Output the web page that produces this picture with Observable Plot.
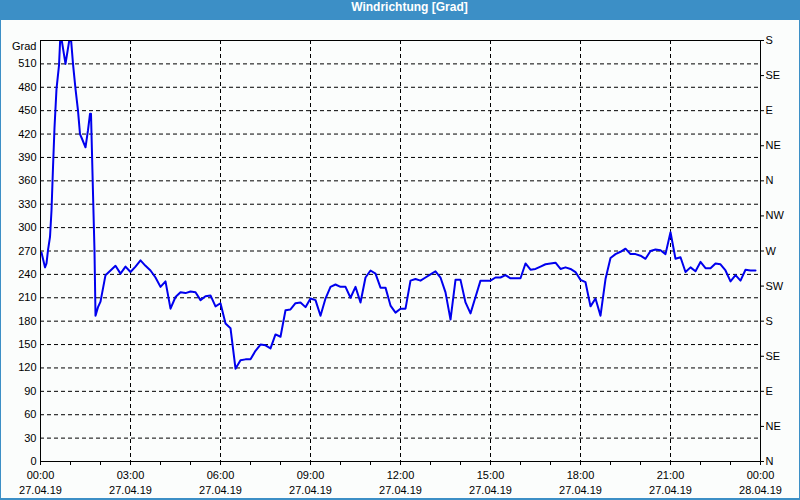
<!DOCTYPE html>
<html>
<head>
<meta charset="utf-8">
<script src="https://cdn.jsdelivr.net/npm/d3@7"></script>
<script src="https://cdn.jsdelivr.net/npm/@observablehq/plot@0.6"></script>
<style>
  html, body { margin: 0; padding: 0; background: #fbfdfc; }
  #wrap { position: relative; width: 800px; height: 500px; background: #fbfdfc; overflow: hidden; }
  #title { height: 20px; line-height: 20px; background: #3c8fc6; color: #fff; text-align: center;
           box-sizing: border-box; padding-left: 19px;
           font: bold 12px "Liberation Sans", Arial, sans-serif; }
  #border { position: absolute; left: 0; top: 0; width: 800px; height: 500px; box-sizing: border-box;
            border-left: 1px solid #3c8fc6; border-right: 1px solid #3c8fc6; border-bottom: 2px solid #3c8fc6;
            pointer-events: none; }
</style>
</head>
<body>
<div id="wrap">
  <div id="title">Windrichtung [Grad]</div>
  <div id="chart"></div>
  <div id="border"></div>
</div>
<script>
// minutes after 27.04.19 00:00
const minutes = [2,9,12,15,19,22,25,28,32,37,40,50,60,65,70,75,79,83,90,95,99,101,103,105,108,110,115,120,
  130,140,150,160,170,180,190,200,210,220,230,240,250,260,270,280,290,300,310,320,330,340,350,360,
  370,380,390,400,410,420,430,440,450,460,470,480,490,500,510,520,530,540,550,560,570,580,590,600,
  610,620,630,640,650,660,670,680,690,700,710,720,730,740,750,760,770,780,790,800,810,820,830,840,
  850,860,870,880,890,900,910,920,930,940,950,960,970,980,990,1000,1010,1020,1030,1040,1050,1060,
  1070,1080,1090,1100,1110,1120,1130,1140,1150,1160,1170,1180,1190,1200,1210,1220,1230,1240,1250,
  1260,1270,1280,1290,1300,1310,1320,1330,1340,1350,1360,1370,1380,1390,1400,1410,1420,1430];
// wind direction in degrees
const values = [268,249,254,271,288,322,377,428,478,508,550,510,550,510,478,450,420,414,403,425,446,446,395,344,270,187,198,205,
  239,245,251,241,250,243,250,258,251,245,236,224,231,196,211,217,216,218,217,207,212,213,199,203,
  177,171,119,130,131,131,142,150,149,145,163,160,194,195,203,204,198,209,207,187,209,224,227,224,
  224,210,224,204,236,245,241,223,223,200,191,196,196,232,234,232,236,240,244,236,217,182,233,233,
  204,190,211,232,232,232,236,236,239,235,235,235,254,246,247,250,253,254,255,247,249,247,
  243,233,230,199,209,187,234,261,266,269,273,266,266,264,260,270,272,271,266,
  294,260,262,243,249,244,256,248,248,254,253,245,231,239,232,246,245,245];

const yTicks = [0,30,60,90,120,150,180,210,240,270,300,330,360,390,420,450,480,510];
const yGrid = [30,60,90,120,150,180,210,240,270,300,330,360,390,420,450,480,510];
const dirTicks = [0,45,90,135,180,225,270,315,360,405,450,495,540];
const dirLabels = ["N","NE","E","SE","S","SW","W","NW","N","NE","E","SE","S"];
const yLabel = "Grad";

const start = new Date(Date.UTC(2019, 3, 27, 0, 0));
const end = new Date(Date.UTC(2019, 3, 28, 0, 0));
const data = minutes.map((m, i) => ({time: new Date(+start + m * 60000), value: values[i]}));

const hourTicks = d3.utcHours(start, new Date(+end + 1));
const labelTicks = d3.utcHours(start, new Date(+end + 1), 3);
const gridX = labelTicks.filter(d => +d !== +start && +d !== +end);

const chart = Plot.plot({
  width: 800,
  height: 480,
  marginLeft: 40,
  marginRight: 40,
  marginTop: 20,
  marginBottom: 39,
  style: {background: "transparent", fontFamily: "'Liberation Sans', Arial, sans-serif", fontSize: "11px", color: "#000"},
  x: {type: "utc", domain: [start, end]},
  y: {domain: [0, 540]},
  marks: [
    Plot.ruleY(yGrid, {stroke: "#000", strokeWidth: 1, strokeDasharray: "4,3"}),
    Plot.ruleX(gridX, {stroke: "#000", strokeWidth: 1, strokeDasharray: "4,3"}),
    Plot.line(data, {x: "time", y: "value", stroke: "#0000ee", strokeWidth: 2, clip: true}),
    Plot.frame({stroke: "#000", strokeWidth: 1}),
    Plot.axisY({anchor: "left", ticks: yTicks, tickSize: 0, tickPadding: 4, label: null}),
    Plot.axisY({anchor: "right", ticks: dirTicks, tickSize: 3, tickPadding: 2, label: null,
                tickFormat: d => dirLabels[dirTicks.indexOf(d)]}),
    Plot.axisX({ticks: hourTicks, tickSize: 4, tickFormat: () => "", label: null}),
    Plot.axisX({ticks: labelTicks, tickSize: 0, tickPadding: 10, tickFormat: d3.utcFormat("%H:%M"), label: null}),
    Plot.axisX({ticks: labelTicks, tickSize: 0, tickPadding: 25, tickFormat: d3.utcFormat("%d.%m.%y"), label: null}),
    Plot.text([yLabel], {frameAnchor: "top-left", dx: -4, dy: 6, textAnchor: "end", lineAnchor: "middle", fill: "#000"})
  ]
});
document.getElementById("chart").appendChild(chart);
</script>
</body>
</html>
